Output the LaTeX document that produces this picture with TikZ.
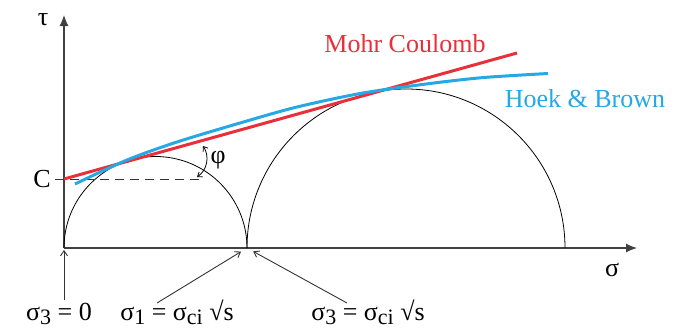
\documentclass[tikz,border=0pt]{standalone}
\usepackage{fontspec}
\setmainfont{Liberation Serif}
\usetikzlibrary{arrows.meta}
\definecolor{mcred}{RGB}{232,48,58}
\definecolor{hbblue}{RGB}{38,168,228}
\newcommand{\lowsub}[1]{\raisebox{-0.4ex}{\fontsize{22}{22}\selectfont #1}}
\tikzset{
    lbl/.style={font=\fontsize{26}{30}\selectfont, inner sep=0pt},
    pointer/.style={-{Straight Barb[length=5pt,width=7pt]}, line width=0.9pt, black!80}
}
\begin{document}
\begin{tikzpicture}[x=1pt, y=1pt]
        \useasboundingbox (-64,-85) rectangle (628,248);
        \coordinate (O) at (0,0);
        \coordinate (K) at (183,0);
        \coordinate (C) at (0,69);
        % axes
        \draw [-{Latex[length=11pt,width=9pt]}, line width=1.1pt, black!75] (O) -- (573,0) coordinate (xtip);
        \draw [-{Latex[length=11pt,width=9pt]}, line width=1.1pt, black!75] (O) -- (0,233) coordinate (ytip);
        \node [lbl] (tau) at (-21,228) {τ};
        \node [lbl] (sig) at (548,-22) {σ};
        \node [lbl] (clbl) at (-22,69) {C};
        % Mohr circles
        \draw [line width=0.8pt] (O) arc (180:0:91.5);
        \draw [line width=0.8pt] (K) arc (180:0:159);
        % cohesion and friction angle
        \draw [dashed, dash pattern=on 9pt off 6pt, line width=0.9pt, black!80] (clbl.east) ++(4,0) -- (136,69) coordinate (dend);
        \draw [{Straight Barb[length=4pt,width=6pt]}-{Straight Barb[length=4pt,width=6pt]}, line width=0.8pt] (133,71) to [bend right=45] (139,102);
        \node [lbl] (phi) at (154,88) {φ};
        % envelopes
        \draw [mcred, line width=3pt] (C) -- (453,195) coordinate (mcend);
        \draw [hbblue, line width=3pt, smooth] plot coordinates {(11,64) (63,88) (113,106) (176,125) (233,141) (299,155) (366,164.5) (420,170.5) (484,174.5)};
        \node [lbl, text=mcred] (mc) at (341,204) {Mohr Coulomb};
        \node [lbl, text=hbblue] (hb) at (521,149) {Hoek \& Brown};
        % stress labels
        \node [lbl, anchor=base] (s30) at (-5,-72) {σ\lowsub{3} = 0};
        \node [lbl, anchor=base] (s1) at (113,-72) {σ\lowsub{1} = σ\lowsub{ci} √s};
        \node [lbl, anchor=base] (s3) at (304,-72) {σ\lowsub{3} = σ\lowsub{ci} √s};
        \coordinate (t0) at (0,-52);
        \coordinate (t1) at (93,-55);
        \coordinate (t3) at (283,-55);
        \draw [pointer, shorten >=2pt] (t0) -- (O);
        \draw [pointer, shorten >=7pt] (t1) -- (K);
        \draw [pointer, shorten >=7pt] (t3) -- (K);
    \end{tikzpicture}
\end{document}
